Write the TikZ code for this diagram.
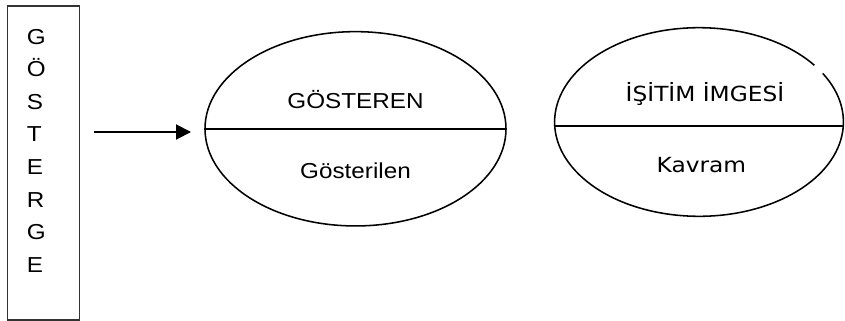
\documentclass[tikz,border=0pt]{standalone}
\usepackage{fontspec}
\newfontfamily\solyazi{Liberation Sans}[FakeStretch=1.12]
\newfontfamily\sagyazi{DejaVu Sans}[FakeStretch=1.12]
\usetikzlibrary{arrows.meta,calc,shapes.geometric}

\begin{document}
\begin{tikzpicture}[
		kutu/.style={draw=black!80, line width=0.8pt, minimum width=1.8cm, minimum height=7.85cm, inner sep=0pt},
		elips/.style={draw, ellipse, line width=1.1pt, inner sep=0pt},
		solmetin/.style={anchor=base, inner sep=0pt, font=\solyazi\fontsize{15.4pt}{18pt}\selectfont},
		sagmetin/.style={anchor=base, inner sep=0pt, font=\sagyazi\fontsize{14.8pt}{18pt}\selectfont},
		ok/.style={-{Triangle[length=0.375cm, width=0.375cm]}, line width=1.4pt}]
		\useasboundingbox (0, 0) rectangle (21.125, -8.025);
		\node[kutu] (gosterge) at (1.0825, -4.075) {\parbox[c][7.85cm][t]{1.8cm}{\solyazi\fontsize{15.4pt}{23.2pt}\selectfont\raggedright\leftskip=0.49cm\rule{0pt}{0.95cm}G\\Ö\\S\\T\\E\\R\\G\\E}};
		\node[elips, minimum width=7.525cm, minimum height=4.8575cm] (gosteren) at (8.8875, -3.22) {};
		\coordinate (imge) at (17.475, -3.05);
		\node[solmetin] (gosteren-ust) at ([yshift=0.51cm]gosteren.center) {GÖSTEREN};
		\node[solmetin] (gosteren-alt) at ([yshift=-1.2375cm]gosteren.center) {Gösterilen};
		\node[sagmetin] (imge-ust) at ([xshift=0.15cm, yshift=0.525cm]imge) {İŞİTİM İMGESİ};
		\node[sagmetin] (imge-alt) at ([xshift=0.06cm, yshift=-1.2575cm]imge) {Kavram};
		\draw[line width=1.1pt] (gosteren.west) -- (gosteren.east);
		\draw[line width=1.1pt] ($(imge)+(37:3.61cm and 2.3575cm)$) arc[start angle=37, end angle=391, x radius=3.61cm, y radius=2.3575cm];
		\draw[line width=1.1pt] ($(imge)+(-3.61, -0.1)$) -- ($(imge)+(3.61, -0.1)$);
		\draw[ok] ([xshift=0.35cm, yshift=-0.08cm]gosterge.east |- gosteren.west) -- ([xshift=-0.33cm, yshift=-0.08cm]gosteren.west);
	\end{tikzpicture}
\end{document}
